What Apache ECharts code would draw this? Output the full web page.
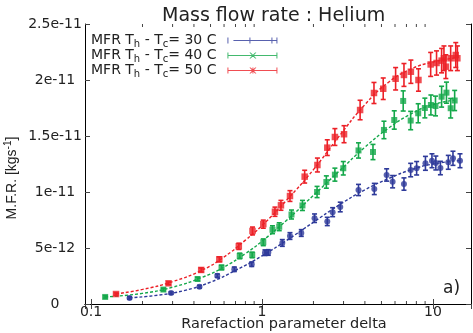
<!DOCTYPE html>
<html>
<head>
<meta charset="utf-8">
<script src="https://cdn.jsdelivr.net/npm/echarts@6/dist/echarts.min.js"></script>
<style>html,body{margin:0;padding:0;background:#fff}#c{width:473px;height:333px}</style>
</head>
<body>
<div id="c"></div>
<script>
// Values of mass flow rate are in units of 1e-12 kg/s
const blueX = [0.168,0.294,0.431,0.548,0.689,0.871,1.041,1.089,1.315,1.458,1.698,2.03,2.41,2.59,2.87,3.67,4.54,5.36,5.81,6.77,7.41,8.03,9.04,9.87,10.4,11.06,12.3,13.1,14.4];
const blueY = [0.54,0.98,1.54,2.53,3.10,3.55,4.58,4.60,5.45,6.07,6.34,7.66,7.37,8.20,8.66,10.18,10.27,11.52,10.92,10.71,11.96,12.12,12.56,12.79,12.59,12.14,12.65,13.01,12.79];
const blueErr = [0.1,0.1,0.12,0.15,0.2,0.2,0.25,0.25,0.3,0.3,0.3,0.38,0.37,0.4,0.43,0.5,0.5,0.55,0.55,0.55,0.6,0.6,0.62,0.62,0.62,0.6,0.62,0.63,0.62];

const greenX = [0.121,0.265,0.420,0.580,0.741,0.877,1.018,1.152,1.262,1.488,1.725,2.10,2.38,2.67,2.99,3.67,4.46,5.17,5.94,6.70,7.41,8.20,8.97,9.73,10.35,11.24,12.0,12.7,13.4];
const greenY = [0.63,1.29,2.23,3.26,4.29,4.38,5.51,6.63,6.90,7.99,8.80,10.0,10.89,11.55,12.12,13.71,13.57,15.54,16.43,18.13,16.38,17.03,17.50,17.77,17.68,18.51,18.87,17.48,18.17];
const greenErr = [0.1,0.12,0.15,0.2,0.25,0.25,0.3,0.35,0.35,0.4,0.45,0.5,0.55,0.58,0.6,0.68,0.68,0.78,0.82,0.9,0.82,0.85,0.88,0.89,0.88,0.93,0.94,0.87,0.9];

const redX = [0.140,0.284,0.441,0.563,0.732,0.880,1.018,1.191,1.291,1.458,1.777,2.11,2.41,2.67,3.02,3.75,4.52,5.12,6.05,6.77,7.43,8.23,9.70,10.5,11.24,11.6,11.9,12.7,13.6,13.9];
const redY = [0.89,1.85,3.04,3.99,5.15,6.52,7.13,8.24,8.81,9.64,11.37,12.41,13.96,14.91,15.16,17.32,18.84,19.22,20.11,20.45,20.74,20.0,21.39,21.52,21.73,21.94,21.19,21.94,22.23,21.94];
const redErr = [0.1,0.12,0.18,0.22,0.28,0.35,0.36,0.41,0.44,0.48,0.57,0.62,0.7,0.75,0.76,0.87,0.94,0.96,1.0,1.02,1.04,1.0,1.07,1.08,1.09,1.1,1.06,1.1,1.11,1.1];

// fitted (dashed) curves
const blueFitX = [0.168,0.25,0.35,0.5,0.7,1.0,1.4,2.0,2.8,4.0,5.5,7.5,10,14.4];
const blueFitY = [0.55,0.8,1.2,1.95,3.0,4.3,5.7,7.3,8.8,10.2,11.2,12.0,12.5,12.8];
const greenFitX = [0.121,0.2,0.3,0.45,0.6,0.8,1.0,1.4,2.0,2.8,4.0,5.5,7.5,10,13.4];
const greenFitY = [0.63,0.95,1.5,2.4,3.3,4.5,5.6,7.5,9.7,11.8,14.0,15.7,17.0,17.8,18.2];
const redFitX = [0.14,0.2,0.3,0.45,0.6,0.8,1.0,1.4,2.0,2.8,4.0,5.5,7.5,10,13.9];
const redFitY = [0.9,1.3,2.0,3.05,4.2,5.7,7.0,9.3,12.0,14.9,17.8,19.8,21.0,21.6,22.0];

const yTickLabels = ['0','5e-12','1e-11','1.5e-11','2e-11','2.5e-11'];
const xMinorTicks = [0.2,0.3,0.4,0.5,0.6,0.7,0.8,0.9,2,3,4,5,6,7,8,9];
const seriesNames = ['30 C','40 C','50 C'];

const BLUE = '#2e3a9a', GREEN = '#14a84a', RED = '#ec2027';
const XMIN = 0.0922, XMAX = 16.7;
const FONT = 'DejaVu Sans';

function zip3(a,b,c){ return a.map((v,i)=>[v,b[i],c[i]]); }
function zip2(a,b){ return a.map((v,i)=>[v,b[i]]); }

function errRender(color){
  return function(params, api){
    const x = api.value(0), y = api.value(1), e = api.value(2);
    const t = api.coord([x, y+e]), b = api.coord([x, y-e]);
    const w = 2.5;
    const st = {stroke: color, lineWidth: 1.6};
    return {type:'group', children:[
      {type:'line', shape:{x1:t[0],y1:t[1],x2:b[0],y2:b[1]}, style:st},
      {type:'line', shape:{x1:t[0]-w,y1:t[1],x2:t[0]+w,y2:t[1]}, style:st},
      {type:'line', shape:{x1:b[0]-w,y1:b[1],x2:b[0]+w,y2:b[1]}, style:st}
    ]};
  };
}

const iconBlue = 'path://M0 0H1V6H0Z M6 2.5H50V3.5H6Z M22 0H23V6H22Z M44 0H45V6H44Z M49 0H50V6H49Z';
const iconGreen = 'path://M0 0H1V6H0Z M0 2.5H50V3.5H0Z M49 0H50V6H49Z M22 0L23.3 0L29 6L27.7 6Z M27.7 0L29 0L23.3 6L22 6Z';
const iconRed = 'path://M0 0H1V6H0Z M0 2.5H50V3.5H0Z M49 0H50V6H49Z M22 0L23.3 0L29 6L27.7 6Z M27.7 0L29 0L23.3 6L22 6Z M25 0H26V6H25Z';

const chart = echarts.init(document.getElementById('c'), null, {renderer:'canvas'});
const option = {
  animation: false,
  backgroundColor: '#fff',
  title: {
    text: 'Mass flow rate : Helium', left: 157, top: 2,
    textStyle: {fontFamily: FONT, fontSize: 19, fontWeight: 'normal', color: '#222'}
  },
  legend: {
    orient: 'vertical', left: 86, top: 27, align: 'right',
    itemWidth: 50, itemHeight: 6, itemGap: -2,
    data: [
      {name: seriesNames[0], icon: iconBlue},
      {name: seriesNames[1], icon: iconGreen},
      {name: seriesNames[2], icon: iconRed}
    ],
    formatter: n => 'MFR T{sub|h} - T{sub|c}= ' + n,
    textStyle: {
      fontFamily: FONT, fontSize: 14, color: '#222', padding: [0,6,0,0], lineHeight: 15,
      rich: {sub: {fontFamily: FONT, fontSize: 10, color: '#222', padding: [7,0,0,0], lineHeight: 15}}
    }
  },
  grid: {left: 85, right: 2, top: 24, bottom: 29, outerBoundsMode: 'none', containLabel: false},
  xAxis: [{
    type: 'log', min: XMIN, max: XMAX, logBase: 10,
    axisLine: {show: true, lineStyle: {color: '#000', width: 1}},
    axisTick: {show: true, inside: true, length: 5, lineStyle: {color: '#444'}},
    axisLabel: {fontFamily: FONT, fontSize: 14, color: '#222', margin: 1, showMinLabel: false, showMaxLabel: false},
    splitLine: {show: false}
  },{
    type: 'log', min: XMIN, max: XMAX, logBase: 10, position: 'top',
    axisLine: {show: true, lineStyle: {color: '#000', width: 1}},
    axisTick: {show: true, inside: true, length: 5, lineStyle: {color: '#444'}},
    axisLabel: {show: false}, splitLine: {show: false}
  }],
  yAxis: [{
    type: 'value', min: 0, max: 25, interval: 5,
    axisLine: {show: true, lineStyle: {color: '#000', width: 1}},
    axisTick: {show: true, inside: true, length: 5, lineStyle: {color: '#444'}},
    axisLabel: {fontFamily: FONT, fontSize: 14, color: '#222', margin: 30, align: 'center',
      formatter: (v, i) => yTickLabels[i]},
    splitLine: {show: false}
  },{
    type: 'value', min: 0, max: 25, interval: 5, position: 'right',
    axisLine: {show: true, lineStyle: {color: '#000', width: 1}},
    axisTick: {show: true, inside: true, length: 5, lineStyle: {color: '#444'}},
    axisLabel: {show: false}, splitLine: {show: false}
  }],
  graphic: [{
    type: 'text', left: 443, top: 280,
    style: {text: 'a)', fontFamily: FONT, fontSize: 17, fill: '#222'}
  },{
    type: 'text', x: 284, y: 324,
    style: {text: 'Rarefaction parameter delta', align: 'center', verticalAlign: 'middle',
      fontFamily: FONT, fontSize: 14.5, fill: '#222'}
  },{
    type: 'text', x: 12, y: 178, rotation: Math.PI / 2,
    style: {
      text: 'M.F.R. [kgs{sup|-1}]', align: 'center', verticalAlign: 'middle',
      fontFamily: 'Liberation Sans', fontSize: 14, fill: '#222',
      rich: {sup: {fontFamily: 'Liberation Sans', fontSize: 10, fill: '#222', padding: [0,0,7,0]}}
    }
  }],
  series: [
    {type:'custom', name:'minor', silent:true, clip:false, z:1,
      data: xMinorTicks.map(v=>[v]),
      encode: {x: 0},
      renderItem: function(params, api){
        const v = api.value(0);
        const b = api.coord([v, 0]), t = api.coord([v, 25]);
        const st = {stroke:'#444', lineWidth:1};
        return {type:'group', children:[
          {type:'line', shape:{x1:b[0],y1:b[1],x2:b[0],y2:b[1]-3}, style:st},
          {type:'line', shape:{x1:t[0],y1:t[1],x2:t[0],y2:t[1]+3}, style:st}
        ]};
      }},
    {type:'line', name:'fitB', data: zip2(blueFitX, blueFitY), smooth: true, symbol:'none', z:2,
      lineStyle:{color: BLUE, width:1.4, type:[3,2]}, silent:true},
    {type:'line', name:'fitG', data: zip2(greenFitX, greenFitY), smooth: true, symbol:'none', z:2,
      lineStyle:{color: GREEN, width:1.4, type:[3,2]}, silent:true},
    {type:'line', name:'fitR', data: zip2(redFitX, redFitY), smooth: true, symbol:'none', z:2,
      lineStyle:{color: RED, width:1.4, type:[3,2]}, silent:true},
    {type:'custom', name:'errB', data: zip3(blueX, blueY, blueErr), encode:{x:0,y:1}, renderItem: errRender(BLUE), z:3},
    {type:'custom', name:'errG', data: zip3(greenX, greenY, greenErr), encode:{x:0,y:1}, renderItem: errRender(GREEN), z:3},
    {type:'custom', name:'errR', data: zip3(redX, redY, redErr), encode:{x:0,y:1}, renderItem: errRender(RED), z:3},
    {type:'scatter', name: seriesNames[0], data: zip2(blueX, blueY), symbol:'circle', symbolSize:6, z:4,
      itemStyle:{color: BLUE}},
    {type:'scatter', name: seriesNames[1], data: zip2(greenX, greenY), symbol:'rect', symbolSize:6, z:4,
      itemStyle:{color: GREEN}},
    {type:'scatter', name: seriesNames[2], data: zip2(redX, redY), symbol:'rect', symbolSize:6.5, z:4,
      itemStyle:{color: RED}}
  ]
};
chart.setOption(option);
</script>
</body>
</html>
